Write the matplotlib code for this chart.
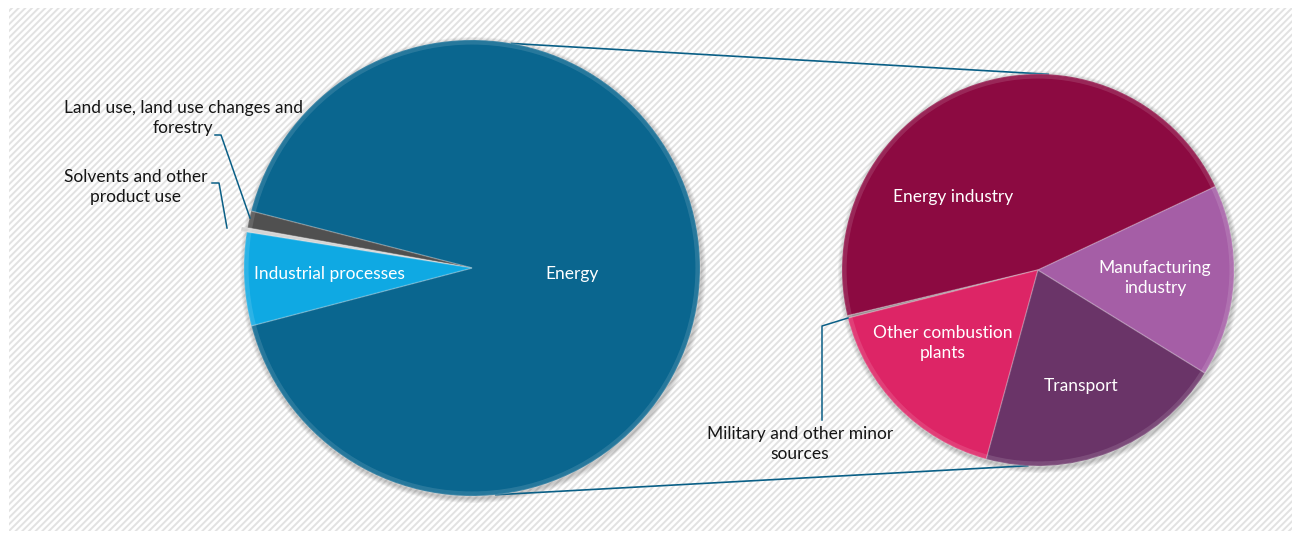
import matplotlib
matplotlib.use("Agg")
import matplotlib.pyplot as plt
from matplotlib.patches import Rectangle
import numpy as np

# ---- data ----
left_labels = ["Energy", "Land use, land use changes and\nforestry",
               "Solvents and other\nproduct use", "Industrial processes"]
left_values = [91.9, 1.2, 0.3, 6.6]
left_colors = ["#0a668f", "#505050", "#d4d4d4", "#0fa9e3"]

right_labels = ["Energy industry", "Military and other minor\nsources",
                "Other combustion\nplants", "Transport", "Manufacturing\nindustry"]
right_values = [46.75, 0.2, 16.8, 20.45, 15.8]
right_colors = ["#8c0a41", "#9a8a90", "#dd2566", "#6a3468", "#a55ea6"]

plt.rcParams['font.family'] = ['Lato', 'DejaVu Sans']
plt.rcParams['hatch.linewidth'] = 1.4
plt.rcParams['hatch.color'] = '#e2e2e2'

W, H = 1300, 539
fig = plt.figure(figsize=(13, 5.39), dpi=100)
fig.patch.set_facecolor('white')
ax = fig.add_axes([0, 0, 1, 1])

# background hatched panel
bg = Rectangle((9, 8), 1283, 523, facecolor='white', edgecolor='#e2e2e2',
               linewidth=0, hatch='/////', zorder=0)
ax.add_patch(bg)
try:
    bg.set_hatchcolor('#e2e2e2')
except Exception:
    pass

LC = (472, 271); LR = 228
RC = (1038, 269); RR = 196

# shadows
for (c, r) in [(LC, LR), (RC, RR)]:
    for k in range(6):
        ax.add_patch(plt.Circle((c[0] + 1, c[1] - 2), r + 1 + k * 0.8,
                                color='black', alpha=0.035, zorder=1, lw=0))

lw, _ = ax.pie(left_values, colors=left_colors, center=LC, radius=LR,
               startangle=194.7, counterclock=True,
               wedgeprops=dict(edgecolor=(1, 1, 1, 0.2), linewidth=1.0),
               frame=True)
rw, _ = ax.pie(right_values, colors=right_colors, center=RC, radius=RR,
               startangle=25.2, counterclock=True,
               wedgeprops=dict(edgecolor=(1, 1, 1, 0.2), linewidth=1.0),
               frame=True)
for w in lw + rw:
    w.set_zorder(2)
# small explode for solvents
th = np.deg2rad((lw[2].theta1 + lw[2].theta2) / 2)
lw[2].set_center((LC[0] + 6 * np.cos(th), LC[1] + 6 * np.sin(th)))

# bevel highlight rim
for (c, r) in [(LC, LR), (RC, RR)]:
    ax.add_patch(plt.Circle(c, r - 2.5, fill=False, ec=(1, 1, 1, 0.12), lw=3, zorder=3))

# connector lines between the pies
line_c = '#0a5f86'
def pt(c, r, a):
    a = np.deg2rad(a)
    return c[0] + r * np.cos(a), c[1] + r * np.sin(a)
p1, p2 = pt(LC, LR, 80), pt(RC, RR, 87)
p3, p4 = pt(LC, LR, -84), pt(RC, RR, -93)
ax.plot([p1[0], p2[0]], [p1[1], p2[1]], color=line_c, lw=1.2, zorder=1.5)
ax.plot([p3[0], p4[0]], [p3[1], p4[1]], color=line_c, lw=1.2, zorder=1.5)

fs = 12.5
def T(x, y, s, color='white', **kw):
    ax.text(x, H - y, s, color=color, fontsize=fs, ha='center', va='center',
            zorder=5, linespacing=1.35, **kw)

T(572, 274, left_labels[0])
T(329, 274, left_labels[3])
T(183, 118, left_labels[1], color='#151515')
T(136, 187, left_labels[2], color='#151515')
T(953, 197, right_labels[0])
T(1155, 278, right_labels[4])
T(1081, 386, right_labels[3])
T(943, 343, right_labels[2])
T(800, 444, right_labels[1], color='#151515')

# leader lines
def L(pts):
    xs = [p[0] for p in pts]; ys = [H - p[1] for p in pts]
    ax.plot(xs, ys, color=line_c, lw=1.1, zorder=4)
L([(215, 135), (221, 135), (250, 218)])
L([(212, 183), (219, 183), (227, 228)])
L([(822, 420), (822, 326), (848, 318)])

ax.set_xlim(0, W)
ax.set_ylim(0, H)
ax.set_aspect('equal')
ax.axis('off')
fig.savefig('out.png', dpi=100, facecolor='white')
